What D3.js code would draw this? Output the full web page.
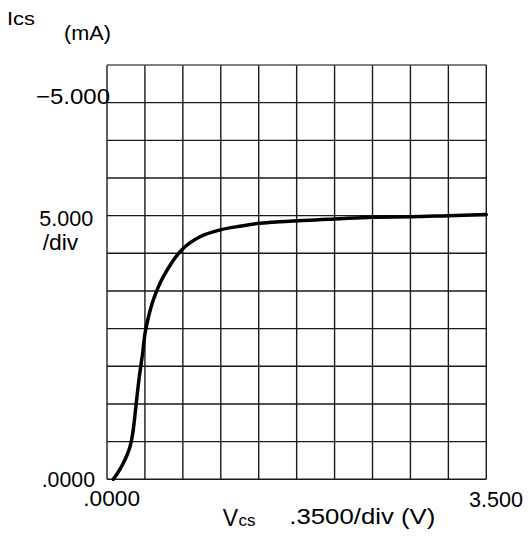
<!DOCTYPE html>
<html>
<head>
<meta charset="utf-8">
<script src="https://cdn.jsdelivr.net/npm/d3@7"></script>
<style>
  body { margin: 0; background: #fff; }
  svg { display: block; }
  text { font-family: "Liberation Sans", Arial, sans-serif; fill: #000; }
  .grid line { stroke: #1a1a1a; stroke-width: 1.4; }
  .trace { fill: none; stroke: #000; stroke-width: 3.5; stroke-linecap: round; }
</style>
</head>
<body>
<div id="chart"></div>
<script>
// Trace: Vcs in volts, Ics in screen divisions
const vcs = [0.058, 0.1015, 0.150, 0.185, 0.212, 0.231, 0.2455, 0.268, 0.298, 0.329, 0.351, 0.376, 0.427, 0.520,
             0.689, 0.858, 1.043, 1.227, 1.412, 1.596, 2.097, 2.448, 2.802, 3.149, 3.500];
const icsDiv = [0, 0.18, 0.425, 0.645, 0.865, 1.11, 1.39, 1.97, 2.72, 3.35, 3.88, 4.23, 4.76, 5.38,
                6.09, 6.44, 6.62, 6.72, 6.80, 6.84, 6.91, 6.96, 6.97, 7.00, 7.03];

// Graticule
const xDivs = 10, yDivs = 11;
const voltsPerDiv = 0.35;

// Tick labels as printed on the screen
const yTickDivs = [10, 7, 0];
const yTickLabels = ['\u22125.000', '5.000', '.0000'];
const xTickVolts = [0, 3.5];
const xTickLabels = ['.0000', '3.500'];

const width = 530, height = 537;
const margin = { top: 65, right: 43.7, bottom: 57.7, left: 107 };

const x = d3.scaleLinear()
  .domain([0, xDivs * voltsPerDiv])
  .range([margin.left, width - margin.right]);

const y = d3.scaleLinear()
  .domain([0, yDivs])
  .range([height - margin.bottom, margin.top]);

const svg = d3.select('#chart')
  .append('svg')
    .attr('width', width)
    .attr('height', height);

// grid lines
const grid = svg.append('g').attr('class', 'grid');

grid.selectAll('.vline')
  .data(d3.range(xDivs + 1))
  .join('line')
    .attr('class', 'vline')
    .attr('x1', d => x(d * voltsPerDiv)).attr('x2', d => x(d * voltsPerDiv))
    .attr('y1', y(0)).attr('y2', y(yDivs));

grid.selectAll('.hline')
  .data(d3.range(yDivs + 1))
  .join('line')
    .attr('class', 'hline')
    .attr('x1', x(0)).attr('x2', x(xDivs * voltsPerDiv))
    .attr('y1', d => y(d)).attr('y2', d => y(d))
    .style('stroke', d => d === yDivs ? '#555' : null);

// the trace
const line = d3.line()
  .x((d, i) => x(vcs[i]))
  .y(d => y(d))
  .curve(d3.curveCatmullRom.alpha(0.5));

svg.append('path')
  .datum(icsDiv)
  .attr('class', 'trace')
  .attr('d', line);

// y tick labels (each sits a little differently on the screen)
const yLabelPos = [ { dx: 3, dy: 1.3, w: 74 }, { dx: -13.7, dy: 10.3, w: 54 }, { dx: -12, dy: 7.4, w: 53.3 } ];
svg.append('g')
  .selectAll('text')
  .data(yTickDivs)
  .join('text')
    .attr('x', (d, i) => x(0) + yLabelPos[i].dx - yLabelPos[i].w)
    .attr('y', (d, i) => y(d) + yLabelPos[i].dy)
    .attr('font-size', 22)
    .attr('textLength', (d, i) => yLabelPos[i].w)
    .attr('lengthAdjust', 'spacingAndGlyphs')
    .text((d, i) => yTickLabels[i]);

svg.append('text')
  .attr('x', 42.7).attr('y', y(7) + 34.3)
  .attr('font-size', 22)
  .attr('textLength', 35.6).attr('lengthAdjust', 'spacingAndGlyphs')
  .text('/div');

// x tick labels
const xLabelPos = [ { dx: -23.7, w: 56.7, base: 505.7 }, { dx: -17.3, w: 54, base: 507 } ];
svg.append('g')
  .selectAll('text')
  .data(xTickVolts)
  .join('text')
    .attr('x', (d, i) => x(d) + xLabelPos[i].dx)
    .attr('y', (d, i) => xLabelPos[i].base)
    .attr('font-size', 22)
    .attr('textLength', (d, i) => xLabelPos[i].w)
    .attr('lengthAdjust', 'spacingAndGlyphs')
    .text((d, i) => xTickLabels[i]);

// axis titles
svg.append('text')
  .attr('x', 7).attr('y', 25)
  .attr('font-size', 18)
  .attr('textLength', 28).attr('lengthAdjust', 'spacingAndGlyphs')
  .text('Ics');

svg.append('text')
  .attr('x', 64).attr('y', 39.5)
  .attr('font-size', 19.5)
  .attr('textLength', 47).attr('lengthAdjust', 'spacingAndGlyphs')
  .text('(mA)');

const vt = svg.append('text')
  .attr('x', 222.7).attr('y', 526);
vt.append('tspan').attr('font-size', 23).text('V');
vt.append('tspan').attr('font-size', 17).attr('dx', 0.5).text('cs');

svg.append('text')
  .attr('x', 289.3).attr('y', 524.3)
  .attr('font-size', 22)
  .attr('textLength', 146).attr('lengthAdjust', 'spacingAndGlyphs')
  .text('.3500/div (V)');
</script>
</body>
</html>
